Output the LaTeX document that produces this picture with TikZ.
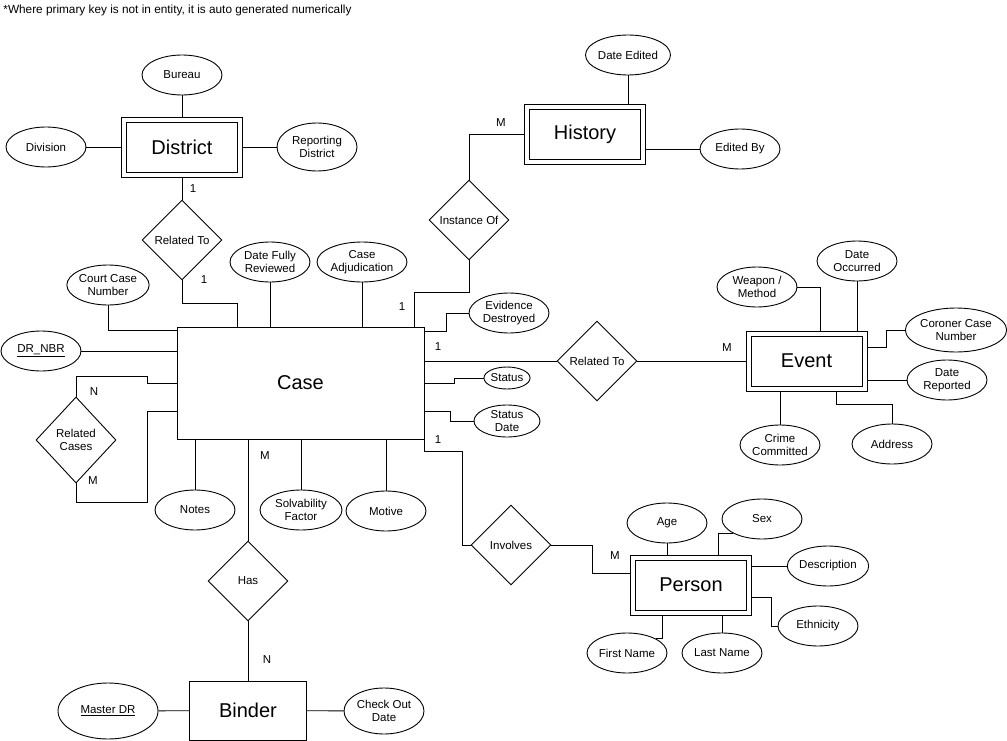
\documentclass[tikz,border=0pt]{standalone}
\usepackage{fontspec}
\setmainfont{Liberation Sans}
\usetikzlibrary{shapes.geometric}
\tikzset{
  attr/.style={shape=ellipse,draw,minimum width=80pt,minimum height=40pt,inner sep=0pt,align=center,font=\fontsize{11.5}{13.5}\selectfont},
  rel/.style={shape=diamond,draw,minimum width=80pt,minimum height=80pt,inner sep=0pt,align=center,font=\fontsize{11.5}{13.5}\selectfont},
  ent/.style={shape=rectangle,draw,font=\fontsize{20}{24}\selectfont},
  weakent/.style={ent,minimum width=111pt,minimum height=50pt,outer sep=5pt,
    append after command={\pgfextra{\draw (\tikzlastnode.north west) rectangle (\tikzlastnode.south east);}}},
  card/.style={font=\fontsize{11.5}{13.5}\selectfont,inner sep=0pt}
}

\begin{document}
\begin{tikzpicture}[x=1pt,y=-1pt,line width=0.9pt]
  \useasboundingbox (0,0) rectangle (1007,741);
  \path (3,10) node [card,anchor=west,font=\fontsize{11.8}{13}\selectfont] (note) {*Where primary key is not in entity, it is auto generated numerically};

  \path (182,147) node [weakent] (district) {District}
  (182,75) node [attr] (bureau) {Bureau}
  (46,147) node [attr] (division) {Division}
  (317,147) node [attr,minimum height=48pt] (repdistrict) {Reporting\\District}
  (182,240) node [rel] (relto1) {Related To};

  \path (300.5,383) node [ent,minimum width=247pt,minimum height=112pt] (case) {Case}
  (108,285) node [attr] (courtcase) {Court Case\\Number}
  (41,351) node [attr] (drnbr) {\underline{DR\_NBR}}
  (270,262) node [attr] (datereviewed) {Date Fully\\Reviewed}
  (362,262) node [attr,minimum width=90pt] (adjudication) {Case\\Adjudication}
  (76,440) node [rel,minimum height=86pt] (relcases) {Related\\Cases}
  (195,510) node [attr] (notes) {Notes}
  (301,510) node [attr,minimum width=82pt] (solvability) {Solvability\\Factor}
  (386,511) node [attr] (motive) {Motive}
  (509,313) node [attr] (evidence) {Evidence\\Destroyed}
  (507,378) node [attr,minimum width=46pt,minimum height=22pt] (status) {Status}
  (507,421) node [attr,minimum width=66pt,minimum height=32pt] (statusdate) {Status\\Date};

  \path (806.5,361) node [weakent] (event) {Event}
  (757,287) node [attr] (weapon) {Weapon /\\Method}
  (857,261) node [attr] (dateoccurred) {Date\\Occurred}
  (956,330) node [attr,minimum width=100pt,minimum height=44pt] (coroner) {Coroner Case\\Number}
  (947,380) node [attr] (datereported) {Date\\Reported}
  (780,445) node [attr] (crime) {Crime\\Committed}
  (892,444) node [attr] (address) {Address}
  (597,361) node [rel] (relto2) {Related To};

  \path (585,134) node [weakent] (history) {History}
  (628,55) node [attr] (dateedited) {Date Edited}
  (740,149) node [attr] (editedby) {Edited By}
  (469,220) node [rel] (instanceof) {Instance Of};

  \path (691,585) node [weakent] (person) {Person}
  (667,523) node [attr] (age) {Age}
  (762,519) node [attr] (sex) {Sex}
  (828,566) node [attr] (description) {Description}
  (818,626) node [attr] (ethnicity) {Ethnicity}
  (627,653) node [attr] (firstname) {First Name}
  (722,653) node [attr] (lastname) {Last Name}
  (511,545) node [rel] (involves) {Involves};

  \path (248,710.5) node [ent,minimum width=117pt,minimum height=59pt] (binder) {Binder}
  (248,581) node [rel] (has) {Has}
  (108,711) node [attr,minimum width=100pt,minimum height=56pt] (masterdr) {\underline{Master DR}}
  (384,711) node [attr,minimum height=46pt] (checkout) {Check Out\\Date};

  \path (193,189) node [card] (c1) {1}
  (204,280) node [card] (c2) {1}
  (94,392) node [card] (c3) {N}
  (93,481) node [card] (c4) {M}
  (265,456) node [card] (c5) {M}
  (267,660) node [card] (c6) {N}
  (402,307) node [card] (c7) {1}
  (501,123) node [card] (c8) {M}
  (438,347) node [card] (c9) {1}
  (727,348) node [card] (c10) {M}
  (438,440) node [card] (c11) {1}
  (615,556) node [card] (c12) {M};

  \draw (bureau) -- (bureau |- district.north);
  \draw (division) -- (district);
  \draw (district) -- (repdistrict);
  \draw (district) -- (relto1);
  \draw (relto1.south) -- ++(0,23) -| ([xshift=61pt]case.north west);
  \draw (courtcase.south) |- ([yshift=-4pt]case.north west);
  \draw (drnbr) -- (drnbr -| case.west);
  \draw (datereviewed) -- (datereviewed |- case.north);
  \draw (adjudication) -- (adjudication |- case.north);
  \draw (relcases.north) -- ++(0,-20) -- ++(71,0) |- (case.west);
  \draw (relcases.south) -- ++(0,19) -- ++(71,0) |- ([yshift=-28pt]case.west);
  \draw (notes) -- (notes |- case.south);
  \draw (has) -- (has |- case.south);
  \draw (solvability) -- (solvability |- case.south);
  \draw (motive) -- (motive |- case.south);
  \draw (has) -- (binder);
  \draw (masterdr) -- (binder);
  \draw (binder) -- (checkout);
  \draw ([xshift=-10pt]case.north east) -- ++(0,-34) -| (instanceof.south);
  \draw (instanceof.north) |- (history.west);
  \draw (dateedited) -- (dateedited |- history.north);
  \draw (editedby) -- (editedby -| history.east);
  \draw ([yshift=-5pt]case.north east) -- ++(22,0) |- (evidence.west);
  \draw (relto2) -- (relto2 -| case.east);
  \draw (relto2) -- (event);
  \draw (case.east) -- ++(30,0) |- (status.west);
  \draw ([yshift=-28pt]case.east) -- ++(26,0) |- (statusdate.west);
  \draw (case.south east) -- ++(0,12) -- ++(38,0) |- (involves.west);
  \draw (involves.east) -- ++(41,0) |- ([yshift=12pt]person.west);
  \draw (age) -- (age |- person.north);
  \draw ([xshift=27pt]person.north) |- (sex.south west);
  \draw (description) -- (description -| person.east);
  \draw ([yshift=-12pt]person.east) -- ++(20,0) |- (ethnicity.west);
  \draw ([xshift=-29pt]person.south) |- (firstname.north east);
  \draw (lastname) -- (lastname |- person.south);
  \draw (weapon.east) -| ([xshift=14pt]event.north);
  \draw (dateoccurred) -- (dateoccurred |- event.north);
  \draw ([yshift=14pt]event.east) -- ++(19,0) |- (coroner.west);
  \draw (datereported) -- (datereported -| event.east);
  \draw (crime) -- (crime |- event.south);
  \draw ([xshift=30pt]event.south) -- ++(0,13) -| (address.north);
\end{tikzpicture}
\end{document}
